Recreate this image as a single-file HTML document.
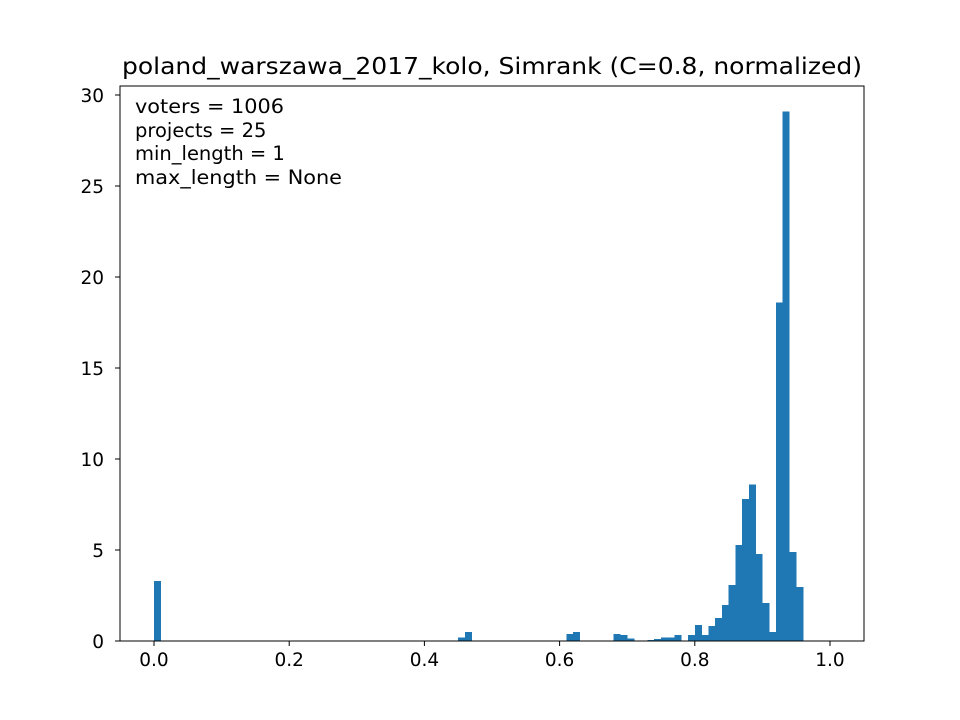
<!DOCTYPE html>
<html><head><meta charset="utf-8"><style>
body{margin:0;background:#fff}
svg{display:block;font-family:"DejaVu Sans","Liberation Sans",sans-serif}
</style></head><body>
<svg id="chart" width="960" height="720" viewBox="0 0 960 720" xmlns="http://www.w3.org/2000/svg">
<rect width="960" height="720" fill="#fff"/>
<text x="492" y="74" font-size="23" text-anchor="middle" textLength="740" lengthAdjust="spacingAndGlyphs">poland_warszawa_2017_kolo, Simrank (C=0.8, normalized)</text>
<g id="bars" shape-rendering="crispEdges"></g>
<g id="axes"></g>
<g font-size="19.5">
<text x="135" y="113" textLength="149" lengthAdjust="spacingAndGlyphs">voters = 1006</text>
<text x="135" y="137">projects = 25</text>
<text x="135" y="160">min_length = 1</text>
<text x="135" y="184" textLength="207" lengthAdjust="spacingAndGlyphs">max_length = None</text>
</g>
</svg>
<script>
const binStarts = [0.00,0.45,0.46,0.61,0.62,0.68,0.69,0.70,0.73,0.74,0.75,0.76,0.77,0.79,0.80,0.81,0.82,0.83,0.84,0.85,0.86,0.87,0.88,0.89,0.90,0.91,0.92,0.93,0.94,0.95];
const binValues = [3.3,0.2,0.5,0.38,0.5,0.38,0.33,0.15,0.06,0.12,0.2,0.2,0.33,0.33,0.88,0.33,0.82,1.26,1.98,3.08,5.27,7.8,8.6,4.78,2.09,0.5,18.6,29.1,4.9,2.97];
const binWidth = 0.01;
const xTicks = [0.0,0.2,0.4,0.6,0.8,1.0];
const xTickLabels = ["0.0","0.2","0.4","0.6","0.8","1.0"];
const yTicks = [0,5,10,15,20,25,30];
const yTickLabels = ["0","5","10","15","20","25","30"];

const L=120,R=864,T=86,B=641;
const xs=v=>154+v*676;
const ys=v=>B-v*18.2;
const NS="http://www.w3.org/2000/svg";
function mk(tag,attrs,parent){const e=document.createElementNS(NS,tag);for(const k in attrs)e.setAttribute(k,attrs[k]);parent.appendChild(e);return e;}
const bars=document.getElementById('bars');
binStarts.forEach((s,i)=>{
  const r=mk('rect',{x:xs(s),y:ys(binValues[i]),width:xs(s+binWidth)-xs(s)+0.3,height:B-ys(binValues[i]),fill:'#1f77b4'},bars);
  
  
});
const ax=document.getElementById('axes');
const fr=mk('rect',{x:L,y:T,width:R-L,height:B-T,fill:'none',stroke:'#000','stroke-width':1},ax);


xTicks.forEach((t,i)=>{
  const x=xs(t);
  mk('line',{x1:x,x2:x,y1:B,y2:B+5,stroke:'#000'},ax);
  const tx=mk('text',{x:x,y:B+25,'font-size':18.5,'text-anchor':'middle'},ax);
  tx.textContent=xTickLabels[i];
  
  
});
yTicks.forEach((t,i)=>{
  const y=ys(t);
  mk('line',{x1:L-5,x2:L,y1:y,y2:y,stroke:'#000'},ax);
  const tx=mk('text',{x:L-16,y:y+7,'font-size':18.5,'text-anchor':'end'},ax);
  tx.textContent=yTickLabels[i];
  
  
});
</script>
</body></html>
